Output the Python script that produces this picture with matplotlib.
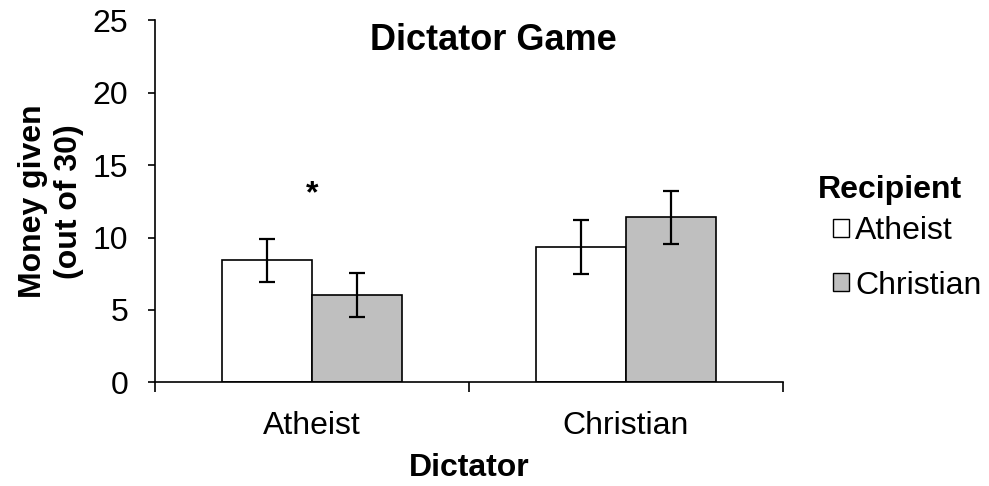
import numpy as np
import matplotlib
matplotlib.use('Agg')
import matplotlib.pyplot as plt
from matplotlib.patches import Patch

plt.rcParams['font.family'] = ['Liberation Sans', 'DejaVu Sans']

dictators = ['Atheist', 'Christian']
recipients = ['Atheist', 'Christian']
# mean money given, by recipient (rows) and dictator (columns)
given_to_atheist = [8.43, 9.33]
given_to_christian = [6.01, 11.40]
err_atheist = [1.50, 1.86]
err_christian = [1.52, 1.82]
bar_colors = ['white', '#bfbfbf']

fig = plt.figure(figsize=(9.89, 4.86), dpi=100)
ax = fig.add_axes([155/989, 1 - 382.3/486, 628/989, 361.8/486])

x = np.arange(len(dictators))
w = 0.286
ekw = dict(elinewidth=1.6, capthick=1.6, ecolor='black')
ax.bar(x - w/2, given_to_atheist, w, yerr=err_atheist, color=bar_colors[0],
       edgecolor='black', linewidth=1.2, capsize=5.5, error_kw=ekw, label=recipients[0])
ax.bar(x + w/2, given_to_christian, w, yerr=err_christian, color=bar_colors[1],
       edgecolor='black', linewidth=1.2, capsize=5.5, error_kw=ekw, label=recipients[1])

ax.text(0, 12.45, '*', ha='center', va='baseline', fontsize=23, fontweight='bold')

ax.set_xlim(-0.5, 1.5)
ax.set_ylim(0, 25)
ax.set_yticks([0, 5, 10, 15, 20, 25])
ax.set_xticks([-0.5, 0.5, 1.5])
ax.set_xticklabels([])
ax.set_xticks(x, minor=True)
ax.set_xticklabels(dictators, minor=True)
ax.tick_params(axis='x', which='minor', length=0, pad=21, labelsize=23)
ax.tick_params(axis='x', which='major', length=7, width=1.2, direction='out')
ax.tick_params(axis='y', length=5.3, width=1.2, pad=14, labelsize=23)
for s in ['top', 'right']:
    ax.spines[s].set_visible(False)
for s in ['left', 'bottom']:
    ax.spines[s].set_linewidth(1.2)

ax.set_xlabel('Dictator', fontsize=23, fontweight='bold', labelpad=8)
ax.set_ylabel('Money given\n(out of 30)', fontsize=23, fontweight='bold',
              linespacing=1.25, labelpad=6)
fig.text(493/989, 1 - 40/486, 'Dictator Game', ha='center', va='center',
         fontsize=26, fontweight='bold')

# legend title placed on its own, legend entries below
fig.text(890/989, 1 - 198/486, 'Recipient', ha='center', va='baseline',
         fontsize=23, fontweight='bold')
handles = [Patch(facecolor=c, edgecolor='black', linewidth=1.0) for c in bar_colors]
leg = ax.legend(handles, recipients, loc='upper left',
                bbox_to_anchor=(833/989, 1 - 216/486), bbox_transform=fig.transFigure,
                frameon=False, fontsize=23,
                handlelength=0.5, handleheight=0.5, handletextpad=0.2, labelspacing=0.77,
                borderpad=0, borderaxespad=0)

fig.savefig('out.png', dpi=100)
